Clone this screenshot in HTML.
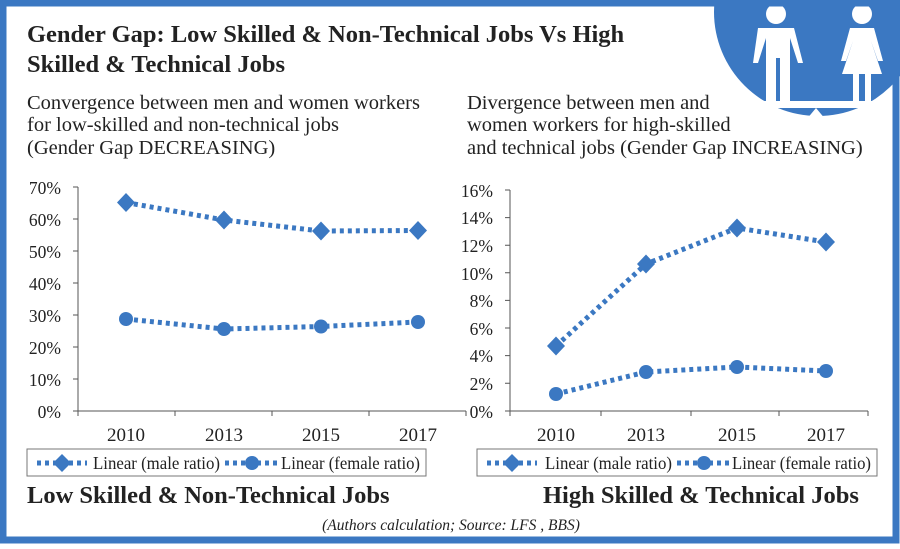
<!DOCTYPE html>
<html><head><meta charset="utf-8"><style>
body{margin:0;background:#fff}
svg text{font-family:"Liberation Serif",serif}
</style></head><body>
<svg width="900" height="544" viewBox="0 0 900 544" xmlns="http://www.w3.org/2000/svg">
<rect x="0" y="0" width="900" height="544" fill="#fff"/>
<circle cx="818" cy="12" r="104" fill="#3b78c2"/>
<g fill="#fff">
<circle cx="776" cy="14" r="10"/>
<path d="M758 28 h36 l9 35 h-5 l-8-25 v64 h-10 v-44 h-4 v44 h-10 v-64 l-8 25 h-5z"/>
<circle cx="862" cy="14" r="10"/>
<path d="M850 28 h24 l9 33 h-5 l-7-20 l11 33 h-11 v28 h-6 v-28 h-6 v28 h-6 v-28 h-11 l11-33 l-7 20 h-5z"/>
<rect x="760" y="101" width="128" height="7"/>
<path d="M816 108 l10 12 h-20z"/>
</g>
<rect x="3" y="3" width="893" height="537" fill="none" stroke="#3b78c2" stroke-width="7"/>
<text x="27" y="42" font-size="24.5" font-weight="bold" fill="#222">Gender Gap: Low Skilled &amp; Non-Technical Jobs Vs High</text>
<text x="27" y="72" font-size="24.5" font-weight="bold" fill="#222">Skilled &amp; Technical Jobs</text>
<g font-size="20.5" fill="#222">
<text x="27" y="109">Convergence between men and women workers</text>
<text x="27" y="131">for low-skilled and non-technical jobs</text>
<text x="27" y="154">(Gender Gap DECREASING)</text>
<text x="467" y="109">Divergence between men and</text>
<text x="467" y="131">women workers  for high-skilled</text>
<text x="467" y="154">and technical jobs (Gender Gap INCREASING)</text>
</g>
<g stroke="#555" stroke-width="1" fill="none">
<path d="M78 187 V411 H466"/>
<path d="M73 187h5M73 219h5M73 251h5M73 283h5M73 315h5M73 347h5M73 379h5M73 411h5"/>
<path d="M78 411v5M175 411v5M272 411v5M369 411v5M466 411v5"/>
</g>
<g font-size="17.5" fill="#222" text-anchor="end">
<text x="61" y="194">70%</text><text x="61" y="226">60%</text><text x="61" y="258">50%</text><text x="61" y="290">40%</text><text x="61" y="322">30%</text><text x="61" y="354">20%</text><text x="61" y="386">10%</text><text x="61" y="418">0%</text>
</g>
<g font-size="19" fill="#222" text-anchor="middle">
<text x="126" y="441">2010</text><text x="224" y="441">2013</text><text x="321" y="441">2015</text><text x="418" y="441">2017</text>
</g>
<g stroke="#3b78c2" stroke-width="5" stroke-dasharray="4 4" fill="none">
<polyline points="126,202.5 224,220 321,231 418,230.5"/>
<polyline points="126,319 224,329 321,326.5 418,322"/>
</g>
<g fill="#3b78c2">
<path d="M126 193l9 9.5-9 9.5-9-9.5z"/><path d="M224 210.5l9 9.5-9 9.5-9-9.5z"/><path d="M321 221.5l9 9.5-9 9.5-9-9.5z"/><path d="M418 221l9 9.5-9 9.5-9-9.5z"/>
<circle cx="126" cy="319" r="7"/><circle cx="224" cy="329" r="7"/><circle cx="321" cy="326.5" r="7"/><circle cx="418" cy="322" r="7"/>
</g>
<g stroke="#555" stroke-width="1" fill="none">
<path d="M510 190 V411 H868"/>
<path d="M505 190h5M505 217.6h5M505 245.2h5M505 272.8h5M505 300.4h5M505 328h5M505 355.6h5M505 383.2h5M505 411h5"/>
<path d="M510 411v5M601 411v5M691 411v5M779 411v5M868 411v5"/>
</g>
<g font-size="17.5" fill="#222" text-anchor="end">
<text x="493" y="197">16%</text><text x="493" y="224">14%</text><text x="493" y="252">12%</text><text x="493" y="280">10%</text><text x="493" y="307">8%</text><text x="493" y="335">6%</text><text x="493" y="362">4%</text><text x="493" y="390">2%</text><text x="493" y="418">0%</text>
</g>
<g font-size="19" fill="#222" text-anchor="middle">
<text x="556" y="441">2010</text><text x="646" y="441">2013</text><text x="737" y="441">2015</text><text x="826" y="441">2017</text>
</g>
<g stroke="#3b78c2" stroke-width="5" stroke-dasharray="4 4" fill="none">
<polyline points="556,346 646,264 737,228 826,242"/>
<polyline points="556,394 646,372 737,367 826,371"/>
</g>
<g fill="#3b78c2">
<path d="M556 336.5l9 9.5-9 9.5-9-9.5z"/><path d="M646 254.5l9 9.5-9 9.5-9-9.5z"/><path d="M737 218.5l9 9.5-9 9.5-9-9.5z"/><path d="M826 232.5l9 9.5-9 9.5-9-9.5z"/>
<circle cx="556" cy="394" r="7"/><circle cx="646" cy="372" r="7"/><circle cx="737" cy="367" r="7"/><circle cx="826" cy="371" r="7"/>
</g>
<g fill="none" stroke="#777"><rect x="27" y="449" width="399" height="27"/><rect x="477" y="449" width="400" height="27"/></g>
<g stroke="#3b78c2" stroke-width="5" stroke-dasharray="4 4">
<path d="M37 463h50M225 463h55M487 463h50M677 463h55"/>
</g>
<g fill="#3b78c2">
<path d="M62 454l9 9-9 9-9-9z"/><circle cx="252" cy="463" r="7"/>
<path d="M512 454l9 9-9 9-9-9z"/><circle cx="704" cy="463" r="7"/>
</g>
<g font-size="17.5" fill="#222">
<text x="93" y="469" textLength="127" lengthAdjust="spacingAndGlyphs">Linear (male ratio)</text><text x="281" y="469" textLength="139" lengthAdjust="spacingAndGlyphs">Linear (female ratio)</text>
<text x="545" y="469" textLength="127" lengthAdjust="spacingAndGlyphs">Linear (male ratio)</text><text x="732" y="469" textLength="139" lengthAdjust="spacingAndGlyphs">Linear (female ratio)</text>
</g>
<g font-size="24.5" font-weight="bold" fill="#222">
<text x="27" y="503">Low Skilled &amp; Non-Technical Jobs</text>
<text x="543" y="503">High Skilled &amp; Technical Jobs</text>
</g>
<text x="451" y="530" font-size="15.5" font-style="italic" fill="#222" text-anchor="middle">(Authors calculation; Source: LFS , BBS)</text>
</svg>
</body></html>
